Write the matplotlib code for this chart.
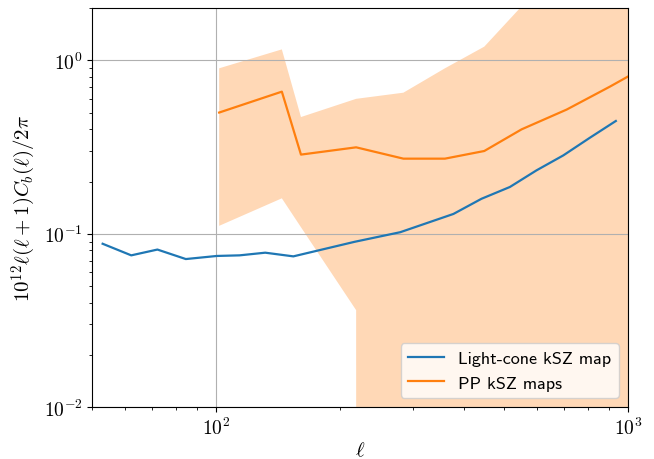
import numpy as np
import matplotlib
matplotlib.use("Agg")
import matplotlib.pyplot as plt

plt.rcParams['mathtext.fontset'] = 'cm'
plt.rcParams['font.family'] = 'cmr10'
plt.rcParams['axes.unicode_minus'] = False
plt.rcParams['axes.formatter.use_mathtext'] = True

# light-cone kSZ map
ell_lc = [53, 62.2, 72, 84.4, 100.4, 114, 131.6, 154, 217, 280, 377, 441, 517, 600, 697, 809, 935]
cl_lc = [0.0875, 0.075, 0.081, 0.0714, 0.0744, 0.075, 0.0777, 0.074, 0.0898, 0.102,
         0.130, 0.159, 0.186, 0.232, 0.283, 0.358, 0.447]

# PP kSZ maps (mean and spread)
ell_pp = [101.7, 144.4, 160.7, 218.8, 285, 359.5, 448, 552, 710, 904, 1050]
cl_pp = [0.50, 0.66, 0.286, 0.315, 0.271, 0.271, 0.30, 0.40, 0.52, 0.705, 0.86]
pp_hi = [0.90, 1.157, 0.471, 0.60, 0.651, 0.90, 1.20, 2.05, 3.5, 5.0, 6.0]
pp_lo = [0.111, 0.16, 0.109, 0.0362, -0.05, -0.1, -0.2, -0.3, -0.4, -0.5, -0.6]

fig, ax = plt.subplots(figsize=(6.54, 4.6), dpi=100)
ax.plot(ell_lc, cl_lc, color='C0', lw=1.6, label='Light-cone kSZ map')
ax.plot(ell_pp, cl_pp, color='C1', lw=1.6, label='PP kSZ maps')
ax.fill_between(ell_pp, pp_lo, pp_hi, color='C1', alpha=0.3, lw=0)

ax.set_xscale('log')
ax.set_yscale('log')
ax.set_xlim(50, 1000)
ax.set_ylim(0.01, 2)
ax.grid(True, which='major', color='#b0b0b0', lw=0.8)
ax.tick_params(labelsize=14)
ax.set_xlabel(r'$\ell$', fontsize=15, labelpad=2)
ax.set_ylabel(r'$10^{12}\ell(\ell+1)C_b(\ell)/2\pi$', fontsize=15)
ax.legend(loc='lower right', prop={'family': 'cmss10', 'size': 13})

fig.subplots_adjust(left=0.141, right=0.96, top=0.98, bottom=0.113)
fig.savefig('out.png')
